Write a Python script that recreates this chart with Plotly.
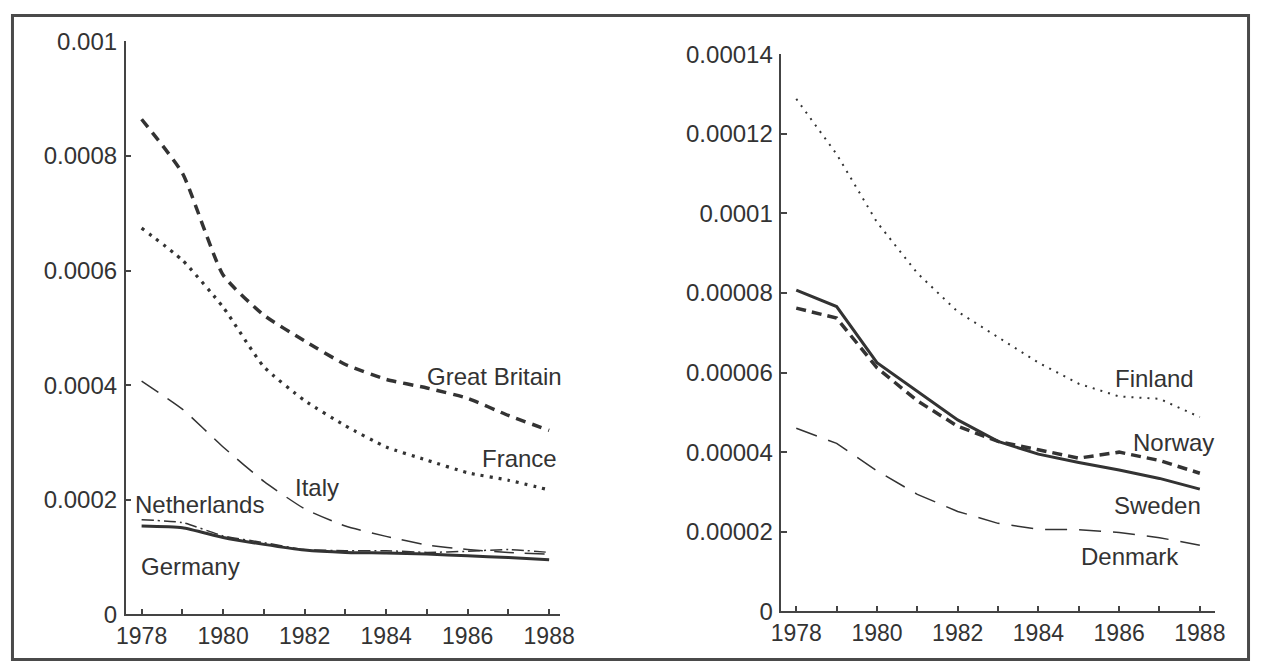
import plotly.graph_objects as go

# ---- data -------------------------------------------------------------
years = list(range(1978, 1989))

# Left panel
great_britain = [0.000864, 0.000770, 0.000592, 0.000522, 0.000477, 0.000436, 0.000410, 0.000395, 0.000377, 0.000347, 0.000321]
france = [0.000674, 0.000618, 0.000536, 0.000432, 0.000373, 0.000329, 0.000292, 0.000269, 0.000247, 0.000234, 0.000217]
italy = [0.000407, 0.000358, 0.000292, 0.000232, 0.000184, 0.000154, 0.000136, 0.000121, 0.000113, 0.000108, 0.000105]
netherlands = [0.000165, 0.000160, 0.000137, 0.000125, 0.000113, 0.000111, 0.000111, 0.000108, 0.000110, 0.000113, 0.000108]
germany = [0.000154, 0.000151, 0.000134, 0.000122, 0.000112, 0.000108, 0.000107, 0.000105, 0.000102, 0.000099, 0.000095]

# Right panel
finland = [0.0001288, 0.0001149, 0.0000978, 0.0000850, 0.0000753, 0.0000689, 0.0000625, 0.0000572, 0.0000540, 0.0000534, 0.0000488]
sweden = [0.0000807, 0.0000766, 0.0000625, 0.0000553, 0.0000481, 0.0000427, 0.0000395, 0.0000374, 0.0000355, 0.0000334, 0.0000307]
norway = [0.0000762, 0.0000737, 0.0000612, 0.0000529, 0.0000465, 0.0000427, 0.0000406, 0.0000385, 0.0000400, 0.0000379, 0.0000347]
denmark = [0.0000460, 0.0000422, 0.0000353, 0.0000294, 0.0000251, 0.0000221, 0.0000206, 0.0000205, 0.0000198, 0.0000185, 0.0000166]

left_ticks = [0, 0.0002, 0.0004, 0.0006, 0.0008, 0.001]
left_ticktext = ["0", "0.0002", "0.0004", "0.0006", "0.0008", "0.001"]
right_ticks = [0, 0.00002, 0.00004, 0.00006, 0.00008, 0.0001, 0.00012, 0.00014]
right_ticktext = ["0", "0.00002", "0.00004", "0.00006", "0.00008", "0.0001", "0.00012", "0.00014"]
year_ticks = [1978, 1980, 1982, 1984, 1986, 1988]
year_ticktext = ["1978", "1980", "1982", "1984", "1986", "1988"]

# ---- layout geometry --------------------------------------------------
# Figure size and an empirical page->picture mapping (body margin + capture scale)
FW, FH = 1265, 674
MARGIN = 8
SX, AX = 0.983, 1.0
SY, AY = 0.960, 5.0

INK = "#333333"
AXIS = "#444444"
FONT = "Liberation Sans, Arial, Helvetica, sans-serif"


def fx(rx):
    """reference picture x -> figure px"""
    return (rx - AX) / SX - MARGIN


def fy(ry):
    """reference picture y -> figure px (from top)"""
    return (ry - AY) / SY - MARGIN


def px(rx):
    return fx(rx) / FW


def py(ry):
    return (FH - fy(ry)) / FH


fig = go.Figure()

left_series = [
    ("Great Britain", great_britain, dict(width=3.5, dash="10px,7px")),
    ("France", france, dict(width=3.2, dash="3px,6px")),
    ("Italy", italy, dict(width=1.5, dash="20px,11px")),
    ("Netherlands", netherlands, dict(width=1.5, dash="12px,4px,2px,4px")),
    ("Germany", germany, dict(width=3)),
]
right_series = [
    ("Finland", finland, dict(width=2, dash="2px,6px")),
    ("Sweden", sweden, dict(width=3)),
    ("Norway", norway, dict(width=3.5, dash="10px,6px")),
    ("Denmark", denmark, dict(width=1.5, dash="22px,12px")),
]

for name, vals, ln in left_series:
    fig.add_trace(go.Scatter(x=years, y=vals, name=name, mode="lines",
                             line=dict(color=INK, shape="spline", smoothing=0.5, **ln),
                             xaxis="x", yaxis="y", showlegend=False))
for name, vals, ln in right_series:
    fig.add_trace(go.Scatter(x=years, y=vals, name=name, mode="lines",
                             line=dict(color=INK, **ln),
                             xaxis="x2", yaxis="y2", showlegend=False))

axis_common = dict(
    showline=True, linecolor=AXIS, linewidth=1.5,
    ticks="inside", ticklen=6, tickwidth=1.5, tickcolor=AXIS,
    showgrid=False, zeroline=False,
)

xaxis_common = dict(
    axis_common,
    tickfont=dict(family=FONT, size=23, color=INK),
    tickmode="array", tickvals=year_ticks, ticktext=year_ticktext,
    minor=dict(tickmode="array", tickvals=years, ticks="inside", ticklen=6,
               tickwidth=1.5, tickcolor=AXIS),
)
yaxis_common = dict(
    axis_common,
    tickfont=dict(family=FONT, size=24, color=INK),
    tickmode="array",
)

fig.update_layout(
    width=FW, height=FH,
    margin=dict(l=0, r=0, t=0, b=0),
    paper_bgcolor="white", plot_bgcolor="white",
    font=dict(family=FONT, color=INK),
    xaxis=dict(xaxis_common, domain=[px(124), px(560)], range=[1977.61, 1988.27],
               anchor="y", ticklabelstandoff=0),
    yaxis=dict(yaxis_common, domain=[py(613), py(40)], range=[0, 0.001],
               tickvals=left_ticks, ticktext=left_ticktext,
               anchor="x", ticklabelstandoff=2),
    xaxis2=dict(xaxis_common, domain=[px(782), px(1217)], range=[1977.63, 1988.37],
                anchor="y2", ticklabelstandoff=0),
    yaxis2=dict(yaxis_common, domain=[py(610), py(53)], range=[0, 0.00014],
                tickvals=right_ticks, ticktext=right_ticktext,
                anchor="x2", ticklabelstandoff=2),
)

labels = [
    ("Great Britain", 494, 375),
    ("France", 519, 457),
    ("Italy", 316, 486),
    ("Netherlands", 198, 503),
    ("Germany", 189, 565),
    ("Finland", 1157, 377),
    ("Norway", 1176, 441),
    ("Sweden", 1160, 504),
    ("Denmark", 1132, 555),
]
for text, x, y in labels:
    fig.add_annotation(text=text, x=px(x), y=py(y), xref="paper", yref="paper",
                       showarrow=False, xanchor="center", yanchor="middle",
                       font=dict(family=FONT, size=24, color=INK))

# outer frame, clamped to the drawable figure area
fx0 = max(fx(5), 1.5)
fx1 = min(fx(1258), FW - 1.5)
fy0 = max(fy(9), 1.5)
fy1 = min(fy(665), FH - 1.5)
fig.add_shape(type="rect", xref="paper", yref="paper",
              x0=fx0 / FW, x1=fx1 / FW, y0=(FH - fy1) / FH, y1=(FH - fy0) / FH,
              line=dict(color="#4a4a4a", width=3))

fig.write_html("out.html")
